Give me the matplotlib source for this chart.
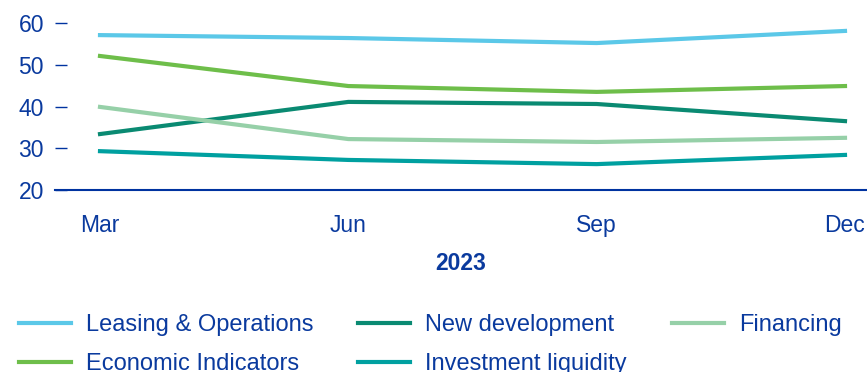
import matplotlib.pyplot as plt

plt.rcParams['font.family'] = ['Liberation Sans', 'DejaVu Sans']

quarters = ["Mar", "Jun", "Sep", "Dec"]
year = "2023"

leasing = [57.1, 56.4, 55.2, 58.1]
economic = [52.1, 44.9, 43.5, 44.9]
new_dev = [33.4, 41.1, 40.6, 36.5]
financing = [39.9, 32.2, 31.5, 32.5]
investment = [29.3, 27.2, 26.2, 28.4]

txt = "#0A3A9E"
axis_blue = "#0033A0"

fig = plt.figure(figsize=(8.67, 3.72), dpi=100)
ax = fig.add_axes([55 / 867, 1 - 190 / 372, 1 - 55 / 867, (190 - 23) / 372])

x = range(len(quarters))
ax.plot(x, leasing, color="#5BC8E8", lw=3, label="Leasing & Operations")
ax.plot(x, economic, color="#6EBE4A", lw=3, label="Economic Indicators")
ax.plot(x, new_dev, color="#0A8A72", lw=3, label="New development")
ax.plot(x, investment, color="#00A0A0", lw=3, label="Investment liquidity")
ax.plot(x, financing, color="#96D0A8", lw=3, label="Financing")

ax.set_xlim(-45 / 248.3, 3 + 22 / 248.3)
ax.set_ylim(20, 60)
ax.set_yticks([20, 30, 40, 50, 60])
ax.set_xticks(list(x))
ax.set_xticklabels(quarters)

for s in ["top", "right", "left"]:
    ax.spines[s].set_visible(False)
ax.spines["bottom"].set_color(axis_blue)
ax.spines["bottom"].set_linewidth(1.5)

ax.tick_params(axis="y", direction="in", length=8.6, width=1, color=axis_blue,
               pad=8, labelsize=16.5, labelcolor=txt)
ax.tick_params(axis="x", length=0, pad=17, labelsize=16.5, labelcolor=txt)
ax.set_xlabel(year, fontsize=16.5, fontweight="bold", color=txt, labelpad=11)

leg = fig.legend(loc="upper left", bbox_to_anchor=(19 / 867, 1 - 314 / 372),
                 ncol=3, frameon=False, fontsize=17, handlelength=2.2,
                 handletextpad=0.64, labelspacing=0.72, columnspacing=1.9,
                 borderaxespad=0, borderpad=0)
for t in leg.get_texts():
    t.set_color(txt)

fig.savefig("out.png", dpi=100)
